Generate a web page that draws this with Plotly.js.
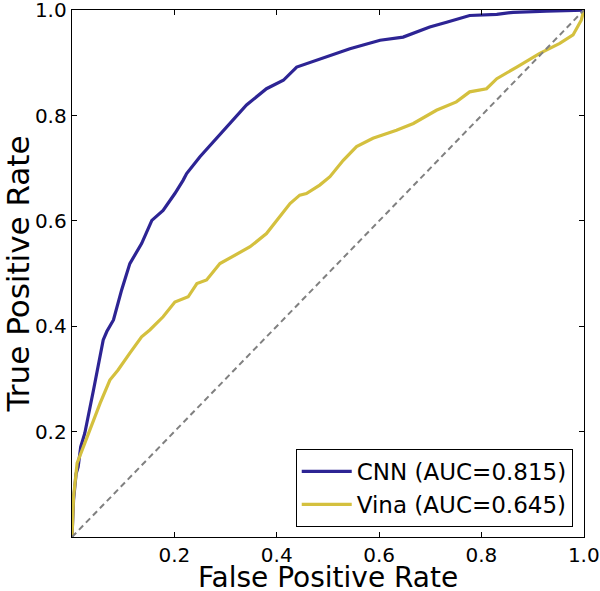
<!DOCTYPE html>
<html>
<head>
<meta charset="utf-8">
<script src="https://cdn.plot.ly/plotly-3.0.1.min.js"></script>
<style>
  html, body { margin: 0; padding: 0; background: #fff; }
  #chart { width: 600px; height: 591px; }
</style>
</head>
<body>
<div id="chart"></div>
<script>
// CNN ROC curve
const cnnFpr = [0, 0.003, 0.008, 0.012, 0.017, 0.025, 0.042, 0.061, 0.068, 0.081, 0.097, 0.113, 0.136, 0.156, 0.178, 0.201, 0.217, 0.224, 0.25, 0.273, 0.309, 0.341, 0.380, 0.413, 0.439, 0.478, 0.510, 0.543, 0.569, 0.602, 0.647, 0.699, 0.732, 0.777, 0.830, 0.862, 0.927, 1.0];
const cnnTpr = [0, 0.07, 0.12, 0.133, 0.171, 0.197, 0.279, 0.374, 0.390, 0.412, 0.469, 0.519, 0.557, 0.601, 0.620, 0.652, 0.677, 0.690, 0.722, 0.747, 0.785, 0.820, 0.851, 0.867, 0.892, 0.905, 0.915, 0.927, 0.934, 0.943, 0.949, 0.968, 0.977, 0.990, 0.992, 0.996, 0.998, 1.0];

// Vina ROC curve
const vinaFpr = [0, 0.003, 0.010, 0.022, 0.038, 0.055, 0.074, 0.090, 0.113, 0.136, 0.152, 0.178, 0.201, 0.227, 0.244, 0.263, 0.289, 0.302, 0.328, 0.348, 0.380, 0.406, 0.426, 0.445, 0.458, 0.484, 0.504, 0.530, 0.556, 0.588, 0.634, 0.667, 0.712, 0.751, 0.777, 0.810, 0.830, 0.869, 0.895, 0.914, 0.953, 0.979, 0.995, 1.0];
const vinaTpr = [0, 0.076, 0.14, 0.171, 0.209, 0.254, 0.298, 0.317, 0.349, 0.380, 0.393, 0.418, 0.446, 0.456, 0.481, 0.488, 0.519, 0.526, 0.541, 0.551, 0.576, 0.608, 0.633, 0.649, 0.652, 0.668, 0.684, 0.715, 0.741, 0.757, 0.772, 0.785, 0.810, 0.826, 0.845, 0.851, 0.870, 0.892, 0.908, 0.918, 0.937, 0.953, 0.981, 1.0];

// Chance diagonal
const chanceX = [0, 1];
const chanceY = [0, 1];

const seriesNames = ['CNN (AUC=0.815)', 'Vina (AUC=0.645)'];
const xTitle = 'False Positive Rate';
const yTitle = 'True Positive Rate';
const tickVals = [0.2, 0.4, 0.6, 0.8, 1.0];
const tickText = ['0.2', '0.4', '0.6', '0.8', '1.0'];

const font = 'DejaVu Sans, Verdana, sans-serif';

const traces = [
  { x: cnnFpr, y: cnnTpr, mode: 'lines', name: seriesNames[0],
    line: { color: '#2d2494', width: 3.2 } },
  { x: vinaFpr, y: vinaTpr, mode: 'lines', name: seriesNames[1],
    line: { color: '#d4c03e', width: 3.2 } },
  { x: chanceX, y: chanceY, mode: 'lines', showlegend: false,
    line: { color: '#808080', width: 2, dash: '6px,4px' } }
];

const axisCommon = {
  tickvals: tickVals,
  ticktext: tickText,
  ticks: 'inside',
  ticklen: 5,
  tickwidth: 1,
  tickcolor: '#000',
  ticklabeloverflow: 'allow',
  showline: true,
  linecolor: '#000',
  linewidth: 1.3,
  mirror: 'ticks',
  showgrid: false,
  zeroline: false,
  tickfont: { family: font, size: 20, color: '#000' }
};

const layout = {
  width: 600, height: 591,
  margin: { l: 72, r: 16, t: 10, b: 54 },
  paper_bgcolor: '#fff',
  plot_bgcolor: '#fff',
  font: { family: font, color: '#000' },
  showlegend: true,
  xaxis: Object.assign({}, axisCommon, {
    range: [0, 1.0004],
    ticklabelstandoff: 0
  }),
  yaxis: Object.assign({}, axisCommon, {
    range: [0, 1.0004],
    title: { text: yTitle, font: { family: font, size: 31, color: '#000' }, standoff: 2 }
  }),
  annotations: [{
    text: xTitle, xref: 'paper', yref: 'paper', x: 0.5, y: 0,
    xanchor: 'center', yanchor: 'middle', yshift: -40, showarrow: false,
    font: { family: font, size: 28, color: '#000' }
  }],
  legend: {
    x: 0.978, y: 0.019, xanchor: 'right', yanchor: 'bottom',
    bgcolor: '#fff', bordercolor: '#000', borderwidth: 1,
    itemwidth: 50,
    font: { family: font, size: 23, color: '#000' }
  }
};

Plotly.newPlot('chart', traces, layout, { staticPlot: true, displayModeBar: false });
</script>
</body>
</html>
